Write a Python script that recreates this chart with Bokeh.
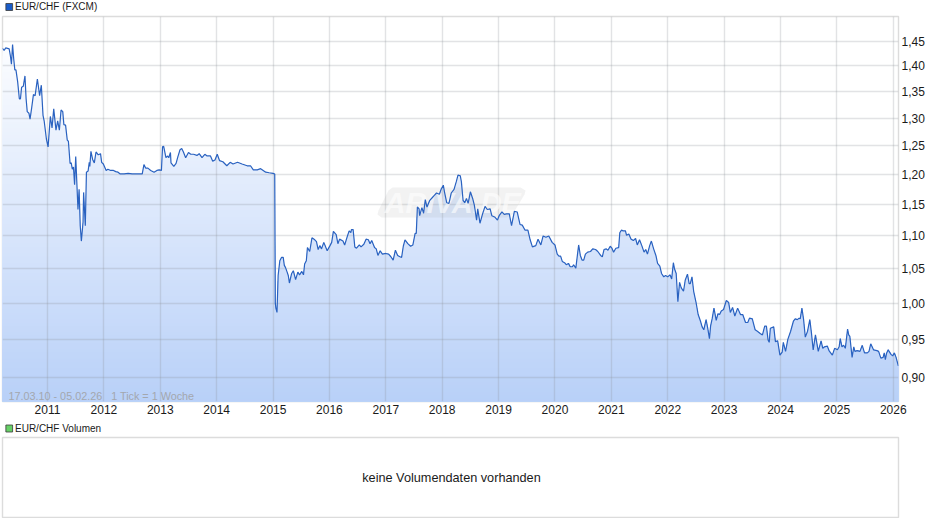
import math
from bokeh.plotting import figure
from bokeh.layouts import column
from bokeh.models import Label, PolyAnnotation, FixedTicker
from bokeh.embed import file_html
from bokeh.resources import INLINE

title_price = "EUR/CHF (FXCM)"
title_volume = "EUR/CHF Volumen"
no_volume_text = "keine Volumendaten vorhanden"
range_text = "17.03.10 - 05.02.26\u00a0\u00a0\u00a01 Tick = 1 Woche"
watermark_text = "ARIVA.DE"

year_ticks = [2011, 2012, 2013, 2014, 2015, 2016, 2017, 2018, 2019, 2020, 2021, 2022, 2023, 2024, 2025, 2026]
price_ticks = [0.90, 0.95, 1.00, 1.05, 1.10, 1.15, 1.20, 1.25, 1.30, 1.35, 1.40, 1.45]
price_labels = ["0,90", "0,95", "1,00", "1,05", "1,10", "1,15", "1,20", "1,25", "1,30", "1,35", "1,40", "1,45"]

dates = [
 2010.20,2010.23,2010.26,2010.29,2010.32,2010.34,2010.36,2010.38,2010.40,2010.42,2010.44,2010.47,2010.50,2010.52,2010.54,2010.57,2010.60,2010.62,2010.64,2010.67,
 2010.69,2010.72,2010.75,2010.78,2010.82,2010.86,2010.89,2010.92,2010.94,2010.98,
 2011.01,2011.03,2011.05,2011.08,2011.11,2011.15,2011.18,2011.21,2011.24,2011.27,2011.29,2011.32,2011.35,2011.37,2011.40,2011.42,2011.44,2011.46,2011.48,2011.50,
 2011.54,2011.56,2011.58,2011.60,2011.63,2011.64,2011.67,2011.69,2011.72,2011.74,2011.75,2011.77,2011.80,2011.83,2011.86,2011.90,2011.94,2011.96,2011.99,
 2012.04,2012.07,2012.12,2012.17,2012.21,2012.25,2012.29,2012.36,2012.43,2012.50,2012.59,2012.68,2012.71,2012.74,2012.78,2012.83,2012.89,2012.94,2012.98,
 2013.02,2013.04,2013.06,2013.10,2013.13,2013.15,2013.18,2013.19,2013.24,2013.28,2013.31,2013.35,2013.38,2013.41,2013.45,2013.50,2013.54,2013.59,2013.65,2013.69,2013.74,2013.79,2013.83,2013.89,2013.93,2013.97,
 2014.01,2014.05,2014.11,2014.18,2014.24,2014.29,2014.37,2014.45,2014.54,2014.60,2014.65,2014.72,2014.78,2014.87,2014.93,
 2015.00,2015.03,2015.04,2015.05,2015.07,2015.09,2015.12,2015.15,2015.18,2015.20,2015.22,2015.25,2015.27,2015.29,2015.33,2015.36,2015.40,2015.44,2015.47,2015.51,2015.54,2015.56,2015.59,2015.61,2015.65,2015.69,2015.74,2015.77,2015.80,2015.83,2015.86,2015.90,2015.96,
 2016.01,2016.04,2016.07,2016.12,2016.15,2016.18,2016.24,2016.27,2016.32,2016.35,2016.38,2016.39,2016.42,2016.45,2016.48,2016.53,2016.56,2016.61,2016.65,2016.69,2016.72,2016.75,2016.80,2016.83,2016.86,2016.90,2016.94,
 2017.00,2017.05,2017.09,2017.13,2017.17,2017.21,2017.25,2017.28,2017.31,2017.34,2017.39,2017.44,2017.48,2017.52,2017.54,2017.56,2017.59,2017.60,2017.64,2017.67,2017.70,2017.73,2017.78,2017.83,2017.86,2017.90,2017.95,2017.98,
 2018.02,2018.04,2018.08,2018.12,2018.16,2018.21,2018.25,2018.28,2018.32,2018.34,2018.37,2018.40,2018.43,2018.46,2018.50,2018.54,2018.57,2018.61,2018.63,2018.67,2018.72,2018.76,2018.80,2018.85,2018.88,2018.93,2018.98,
 2019.01,2019.06,2019.10,2019.14,2019.19,2019.23,2019.28,2019.33,2019.38,2019.42,2019.47,2019.52,2019.56,2019.60,2019.66,2019.70,2019.75,2019.79,2019.84,2019.89,2019.95,
 2020.00,2020.04,2020.07,2020.10,2020.13,2020.17,2020.20,2020.24,2020.27,2020.31,2020.33,2020.37,2020.42,2020.45,2020.48,2020.51,2020.54,2020.58,2020.63,2020.67,2020.72,2020.76,2020.81,2020.84,2020.87,2020.91,2020.94,2020.98,
 2021.01,2021.04,2021.08,2021.13,2021.15,2021.18,2021.21,2021.25,2021.27,2021.31,2021.35,2021.39,2021.43,2021.46,2021.50,2021.54,2021.58,2021.61,2021.64,2021.68,2021.71,2021.75,2021.79,2021.82,2021.86,2021.89,2021.93,2021.96,
 2022.00,2022.04,2022.07,2022.10,2022.12,2022.15,2022.18,2022.21,2022.24,2022.28,2022.31,2022.35,2022.38,2022.40,2022.43,2022.46,2022.50,2022.54,2022.58,2022.61,2022.64,2022.68,2022.71,2022.74,2022.76,2022.79,2022.82,2022.86,2022.89,2022.92,2022.95,2022.99,
 2023.04,2023.08,2023.11,2023.15,2023.19,2023.24,2023.29,2023.33,2023.38,2023.42,2023.45,2023.50,2023.55,2023.59,2023.64,2023.68,2023.72,2023.75,2023.78,2023.80,2023.82,2023.88,2023.91,2023.95,2023.99,
 2024.03,2024.05,2024.09,2024.13,2024.18,2024.23,2024.26,2024.30,2024.33,2024.35,2024.38,2024.41,2024.44,2024.48,2024.52,2024.55,2024.58,2024.62,2024.67,2024.72,2024.75,2024.78,2024.83,2024.86,2024.92,2024.96,
 2025.01,2025.04,2025.06,2025.09,2025.12,2025.15,2025.19,2025.21,2025.23,2025.27,2025.30,2025.32,2025.36,2025.41,2025.45,2025.49,2025.54,2025.57,2025.60,2025.65,2025.71,2025.74,2025.78,2025.82,2025.84,2025.86,2025.88,2025.91,2025.96,2025.99,
 2026.02,2026.05,2026.09,
]
eur_chf = [
 1.435,1.431,1.436,1.435,1.434,1.421,1.403,1.443,1.414,1.392,1.392,1.369,1.336,1.336,1.358,1.360,1.380,1.336,1.312,1.309,
 1.298,1.320,1.344,1.342,1.374,1.342,1.362,1.305,1.295,1.262,
 1.248,1.275,1.303,1.282,1.317,1.278,1.295,1.278,1.315,1.312,1.288,1.287,1.260,1.258,1.219,1.220,1.209,1.213,1.183,1.231,
 1.142,1.175,1.116,1.092,1.122,1.170,1.116,1.204,1.206,1.221,1.214,1.240,1.226,1.220,1.239,1.234,1.236,1.221,1.218,
 1.207,1.209,1.207,1.207,1.205,1.204,1.201,1.201,1.202,1.201,1.201,1.201,1.217,1.211,1.211,1.207,1.204,1.207,1.208,
 1.207,1.248,1.249,1.229,1.232,1.229,1.238,1.220,1.214,1.219,1.230,1.243,1.245,1.239,1.229,1.238,1.235,1.235,1.233,1.236,1.229,1.235,1.232,1.232,1.223,1.225,
 1.235,1.224,1.222,1.215,1.221,1.218,1.221,1.218,1.215,1.215,1.208,1.208,1.210,1.204,1.203,
 1.202,1.201,1.000,0.993,0.987,1.040,1.062,1.067,1.067,1.055,1.052,1.045,1.040,1.029,1.043,1.047,1.034,1.045,1.041,1.046,1.041,1.057,1.062,1.082,1.076,1.097,1.094,1.091,1.079,1.085,1.080,1.090,1.077,
 1.085,1.090,1.107,1.102,1.088,1.095,1.092,1.086,1.100,1.108,1.105,1.110,1.110,1.083,1.081,1.086,1.083,1.087,1.095,1.094,1.088,1.093,1.082,1.080,1.070,1.077,1.072,
 1.073,1.072,1.068,1.063,1.078,1.070,1.068,1.067,1.084,1.094,1.088,1.084,1.086,1.104,1.104,1.146,1.143,1.132,1.145,1.136,1.158,1.146,1.157,1.162,1.165,1.169,1.167,1.175,
 1.182,1.171,1.153,1.152,1.169,1.175,1.188,1.199,1.198,1.188,1.157,1.153,1.160,1.152,1.171,1.160,1.149,1.125,1.143,1.120,1.136,1.147,1.142,1.143,1.132,1.130,1.125,
 1.132,1.138,1.134,1.135,1.135,1.116,1.139,1.138,1.118,1.117,1.109,1.109,1.094,1.083,1.085,1.095,1.086,1.100,1.098,1.100,1.090,
 1.086,1.072,1.069,1.069,1.061,1.059,1.056,1.058,1.053,1.053,1.056,1.051,1.086,1.070,1.063,1.063,1.072,1.075,1.076,1.080,1.079,1.076,1.070,1.068,1.079,1.080,1.078,1.084,
 1.081,1.075,1.081,1.082,1.105,1.109,1.108,1.108,1.101,1.103,1.095,1.093,1.096,1.086,1.094,1.085,1.075,1.079,1.072,1.085,1.092,1.080,1.070,1.058,1.054,1.043,1.038,1.040,
 1.038,1.041,1.035,1.059,1.050,1.043,1.002,1.030,1.022,1.017,1.033,1.042,1.028,1.028,1.038,1.017,1.002,0.984,0.975,0.967,0.963,0.977,0.965,0.951,0.968,0.979,0.993,0.976,0.985,0.984,0.989,0.991,
 1.004,1.001,0.987,0.994,0.982,0.993,0.984,0.984,0.973,0.973,0.979,0.978,0.963,0.961,0.958,0.956,0.968,0.968,0.949,0.946,0.965,0.967,0.947,0.948,0.929,
 0.933,0.946,0.934,0.950,0.961,0.975,0.978,0.977,0.979,0.978,0.993,0.977,0.953,0.961,0.977,0.958,0.936,0.956,0.934,0.948,0.938,0.940,0.941,0.935,0.929,0.938,
 0.936,0.940,0.951,0.940,0.942,0.938,0.964,0.956,0.954,0.926,0.940,0.934,0.935,0.934,0.942,0.932,0.932,0.934,0.944,0.936,0.935,0.934,0.925,0.926,0.932,0.923,0.931,0.936,0.930,0.928,
 0.932,0.926,0.915,
]
assert len(dates) == len(eur_chf), (len(dates), len(eur_chf))

# layout of the panels, in page pixels
WIDTH = 932
FRAME_L, FRAME_R, FRAME_T, FRAME_B = 2, 898, 16, 401
HEAD1_H = 15      # header strip above the price chart
PRICE_H = 405     # price chart: page y 15..420
HEAD2_H = 16      # header strip above the volume box: page y 420..436
VOL_H = 82        # volume box: page y 436..518
X0, X1 = 2010.2014, 2026.093
Y0, Y1 = 0.8699, 1.5013


def data_x(px):
    return X0 + (px - FRAME_L) / (FRAME_R - FRAME_L) * (X1 - X0)


def data_y(py):
    t = (FRAME_B - py) / (FRAME_B - FRAME_T)
    return math.exp(math.log(Y0) + t * (math.log(Y1) - math.log(Y0)))


FONT = "Liberation Sans"
GRID = "#8a8f98"


def header(height, text, swatch, mid_y):
    h = figure(width=WIDTH, height=height, output_backend="svg", toolbar_location=None,
               x_range=(0, WIDTH), y_range=(height, 0),
               min_border_left=0, min_border_right=0, min_border_top=0, min_border_bottom=0,
               outline_line_color=None, x_axis_location=None, y_axis_location=None)
    h.grid.visible = False
    h.quad(left=[3.5], right=[10.5], top=[mid_y - 3.5], bottom=[mid_y + 3.5],
           fill_color=swatch, line_color="#3a3a3a", line_width=0.8)
    h.add_layout(Label(x=13, y=mid_y - 0.2, text=text, text_font=FONT, text_font_size="10px",
                       text_color="#1a1a1a", text_baseline="middle", text_align="left"))
    return h


head1 = header(HEAD1_H, title_price, "#1a5cc8", 6.5)
head2 = header(HEAD2_H, title_volume, "#66d066", 8)

p = figure(width=WIDTH, height=PRICE_H, output_backend="svg", toolbar_location=None,
           x_range=(X0, X1), y_range=(Y0, Y1), y_axis_type="log", y_axis_location="right",
           min_border_left=FRAME_L, min_border_right=WIDTH - FRAME_R,
           min_border_top=FRAME_T - HEAD1_H, min_border_bottom=HEAD1_H + PRICE_H - FRAME_B,
           outline_line_color="#dcdcdc", outline_line_width=1.4,
           background_fill_color="#ffffff", border_fill_color="#ffffff")

# vertical gradient under the line, painted from the lightest to the darkest band
BANDS = 110
top_c, bot_c = (252, 253, 255), (184, 208, 248)
for i in range(BANDS):
    t = i / (BANDS - 1)
    px_y = 42 + t * (FRAME_B - 42)
    level = data_y(px_y)
    c = tuple(round(a + (b - a) * t) for a, b in zip(top_c, bot_c))
    p.varea(x=dates, y1=[Y0] * len(dates), y2=[min(v, level) for v in eur_chf],
            fill_color="#%02x%02x%02x" % c, fill_alpha=1, level="image")

for g in (p.xgrid[0], p.ygrid[0]):
    g.grid_line_color = GRID
    g.grid_line_alpha = 0.25
    g.grid_line_width = 1.4
    g.level = "underlay"
p.xgrid[0].ticker = FixedTicker(ticks=year_ticks)
p.ygrid[0].ticker = FixedTicker(ticks=price_ticks)

# watermark: rounded slanted plate with the lettering
plate_px = [(392, 187), (520, 187), (525, 190), (524, 194), (512, 214), (506, 217),
            (381, 217), (377, 214), (378, 210), (388, 190)]
p.add_layout(PolyAnnotation(xs=[data_x(a) for a, _ in plate_px], ys=[data_y(b) for _, b in plate_px],
                            fill_color="#8a8a8a", fill_alpha=0.11, line_alpha=0, level="underlay"))
p.add_layout(Label(x=data_x(384), y=data_y(202), text=watermark_text, text_font=FONT, text_font_size="29px",
                   text_font_style="bold italic", text_color="#ffffff", text_alpha=0.6,
                   text_baseline="middle", text_align="left", level="underlay"))

p.line(dates, eur_chf, line_color="#2a62c0", line_width=1.2)

p.xaxis[0].ticker = FixedTicker(ticks=year_ticks)
p.xaxis[0].major_label_overrides = {y: str(y) for y in year_ticks}
p.yaxis[0].ticker = FixedTicker(ticks=price_ticks)
p.yaxis[0].major_label_overrides = dict(zip(price_ticks, price_labels))
for ax in (p.xaxis[0], p.yaxis[0]):
    ax.axis_line_color = None
    ax.major_tick_line_color = None
    ax.minor_tick_line_color = None
    ax.major_tick_out = 0
    ax.major_tick_in = 0
    ax.major_label_text_font = FONT
    ax.major_label_text_font_size = "12px"
    ax.major_label_text_color = "#1a1a1a"
    ax.major_label_standoff = 3

p.add_layout(Label(x=data_x(8), y=data_y(395), text=range_text, text_font=FONT, text_font_size="10.8px",
                   text_color="#a3a7ae", text_baseline="middle", text_align="left"))

# volume panel: same horizontal frame, no data
v = figure(width=WIDTH, height=VOL_H, output_backend="svg", toolbar_location=None,
           x_range=(FRAME_L, FRAME_R), y_range=(1, 0),
           min_border_left=FRAME_L, min_border_right=WIDTH - FRAME_R, min_border_top=1, min_border_bottom=1,
           outline_line_color="#dcdcdc", outline_line_width=1.4,
           x_axis_location=None, y_axis_location=None,
           background_fill_color="#ffffff", border_fill_color="#ffffff")
v.grid.visible = False
v.add_layout(Label(x=451, y=0.5, text=no_volume_text, text_font=FONT, text_font_size="12.7px",
                   text_color="#1a1a1a", text_baseline="middle", text_align="center"))

page = column(head1, p, head2, v, spacing=0)
open("out.html", "w").write(file_html(page, INLINE))
